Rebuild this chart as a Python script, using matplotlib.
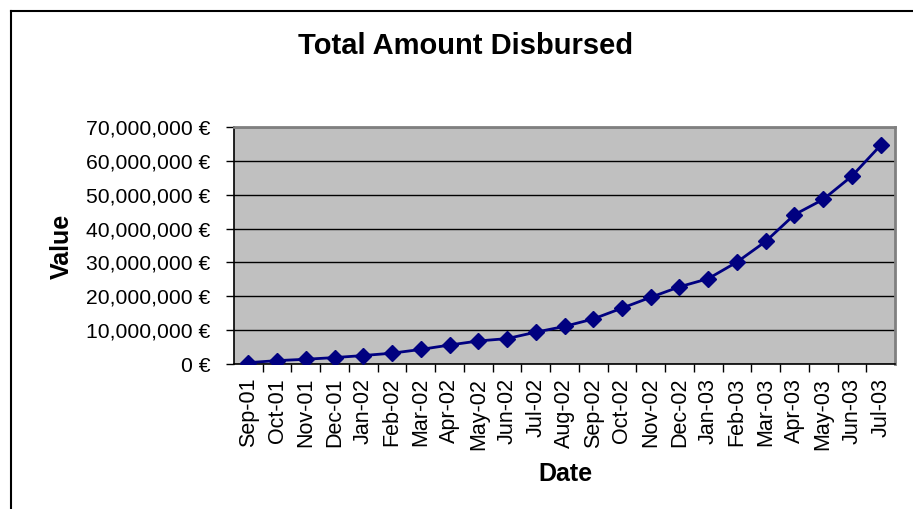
import matplotlib
matplotlib.use("Agg")
import matplotlib.pyplot as plt
from matplotlib.lines import Line2D
from matplotlib.ticker import FuncFormatter

dates = [
    "Sep-01", "Oct-01", "Nov-01", "Dec-01", "Jan-02", "Feb-02", "Mar-02",
    "Apr-02", "May-02", "Jun-02", "Jul-02", "Aug-02", "Sep-02", "Oct-02",
    "Nov-02", "Dec-02", "Jan-03", "Feb-03", "Mar-03", "Apr-03", "May-03",
    "Jun-03", "Jul-03",
]

# amounts in millions of euros
amounts_m = [
    0.4, 1.0, 1.4, 1.9, 2.5, 3.2, 4.3, 5.6, 6.8, 7.5, 9.4, 11.1,
    13.3, 16.5, 19.7, 22.8, 25.2, 30.1, 36.2, 44.1, 48.6, 55.5, 64.6,
]

y_ticks = [0, 10_000_000, 20_000_000, 30_000_000, 40_000_000,
           50_000_000, 60_000_000, 70_000_000]

plt.rcParams["font.family"] = ["Liberation Sans", "DejaVu Sans"]

fig = plt.figure(figsize=(9.13, 5.09), dpi=100)
ax = fig.add_axes([234 / 913, 1 - 364 / 509, (895 - 234) / 913, (364 - 127) / 509])

x = list(range(len(dates)))
values = [v * 1_000_000 for v in amounts_m]

ax.set_facecolor("#C0C0C0")
ax.plot(x, values, color="#000080", linewidth=2, marker="D", markersize=8,
        markerfacecolor="#000080", markeredgecolor="#000080", zorder=3)

ax.set_xlim(-0.5, len(dates) - 0.5)
ax.set_ylim(0, 70_000_000)

# y axis
ax.set_yticks(y_ticks)
ax.yaxis.set_major_formatter(FuncFormatter(lambda v, p: f"{int(v):,} €"))
ax.tick_params(axis="y", direction="out", length=6, width=1, labelsize=15.2, pad=11)
ax.yaxis.grid(True, color="black", linewidth=1)
ax.set_axisbelow(True)

# x axis: labels at categories, tick marks between categories
ax.set_xticks(x)
ax.set_xticklabels(dates, rotation=90, fontsize=15.5)
ax.tick_params(axis="x", which="major", length=0, pad=10)
ax.set_xticks([i + 0.5 for i in x[:-1]], minor=True)
ax.tick_params(axis="x", which="minor", direction="out", length=6, width=1)

for side in ["left", "bottom"]:
    ax.spines[side].set_color("black")
    ax.spines[side].set_linewidth(1.2)
for side in ["top", "right"]:
    ax.spines[side].set_color("#808080")
    ax.spines[side].set_linewidth(2)

fig.text(62 / 913, 1 - 246 / 509, "Value", fontsize=18, fontweight="bold",
         rotation=90, ha="center", va="center")
fig.text(565 / 913, 1 - 474 / 509, "Date", fontsize=18, fontweight="bold",
         ha="center", va="center")
fig.text(466 / 913, 1 - 46 / 509, "Total Amount Disbursed", fontsize=21,
         fontweight="bold", ha="center", va="center")

# outer chart border (top and left visible)
fig.add_artist(Line2D([11 / 913, 11 / 913], [0, 1 - 11 / 509],
                      transform=fig.transFigure, color="black", linewidth=1.5))
fig.add_artist(Line2D([11 / 913, 1], [1 - 11 / 509, 1 - 11 / 509],
                      transform=fig.transFigure, color="black", linewidth=1.5))

fig.savefig("out.png", dpi=100)
